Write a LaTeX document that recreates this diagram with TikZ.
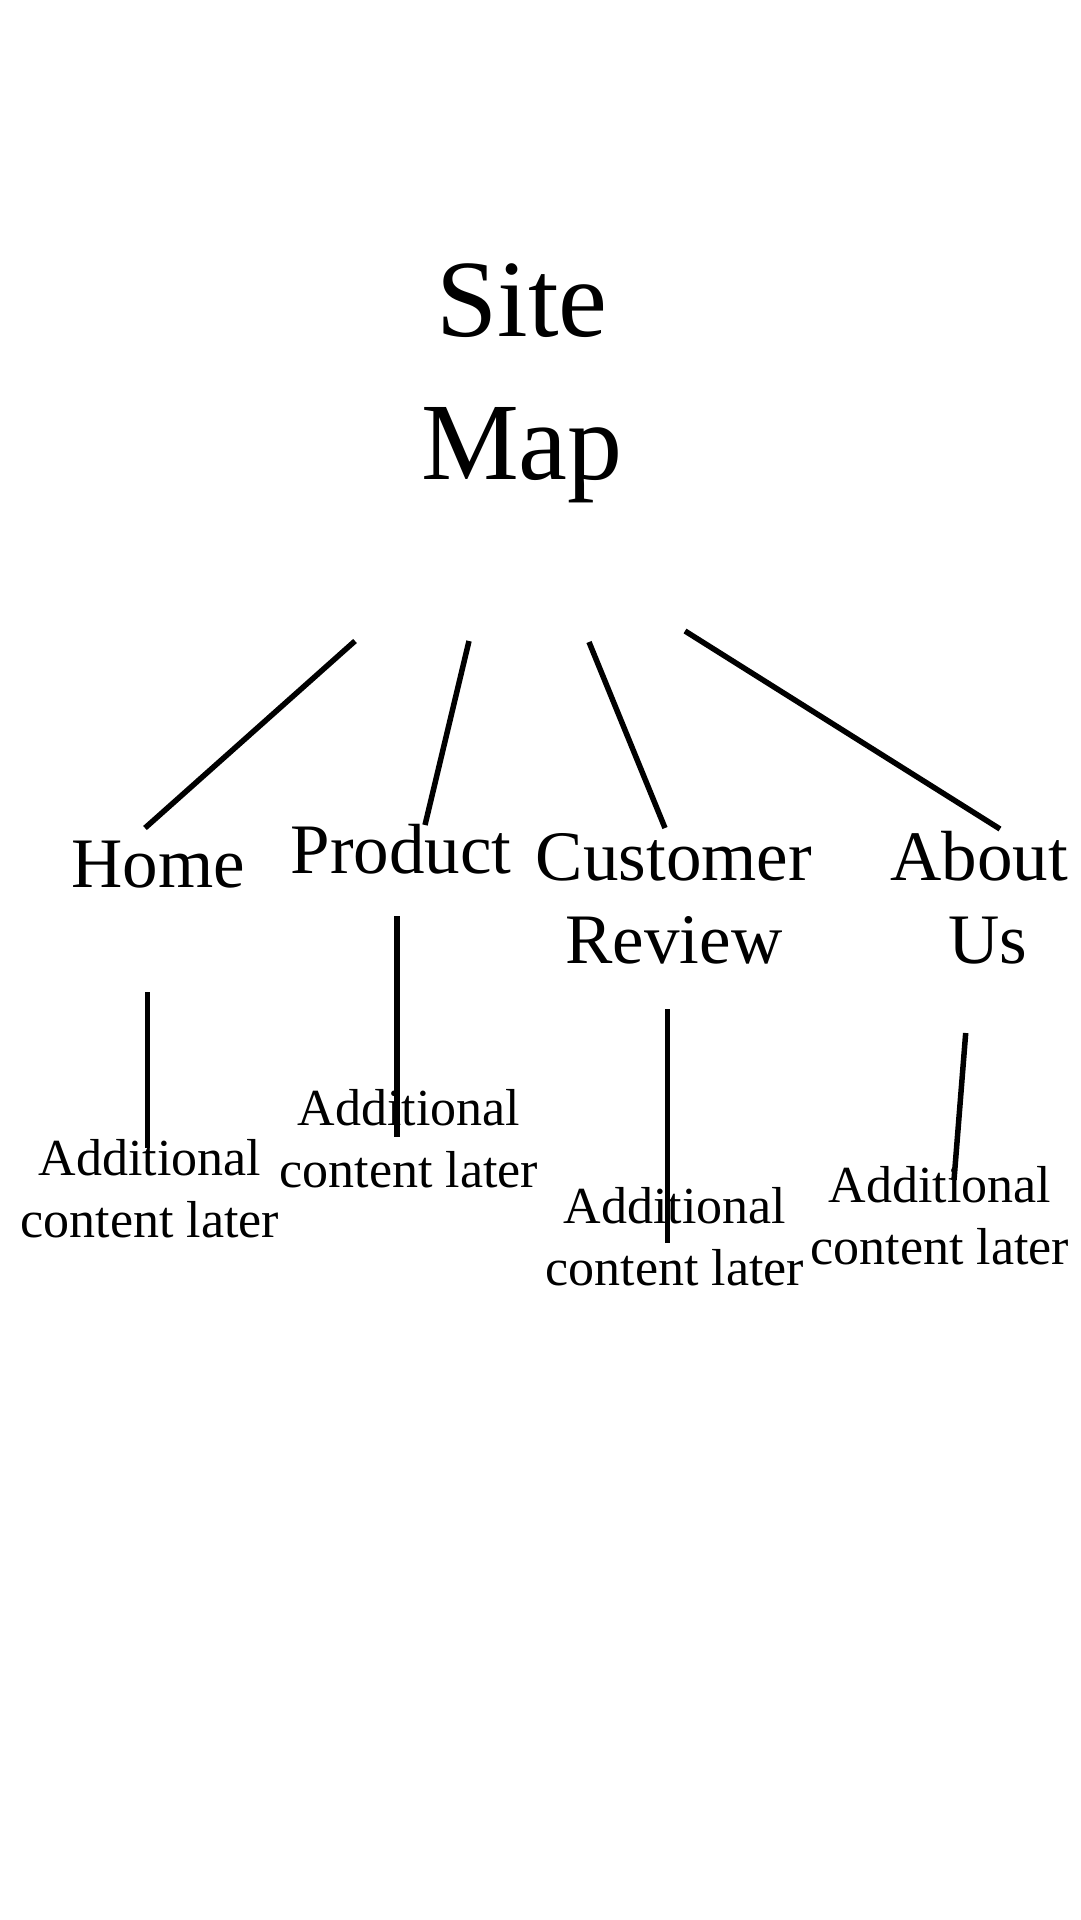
\documentclass[tikz,border=0pt]{standalone}
\usepackage{fontspec}
\setmainfont{Liberation Serif}
\tikzset{
  title/.style={anchor=base, inner sep=0pt, font=\fontsize{110}{143}\selectfont},
  page/.style={anchor=base, inner sep=0pt, font=\fontsize{71}{83}\selectfont},
  later/.style={anchor=base, inner sep=0pt, font=\fontsize{52}{62}\selectfont},
  link/.style={line width=5.5pt, black}
}
\newcommand{\stack}[1]{\begin{tabular}[t]{@{}c@{}}#1\end{tabular}}
\begin{document}
\begin{tikzpicture}[x=1pt, y=-1pt]
\useasboundingbox[fill=white] (0,0) rectangle (1080,1920);

\node[title] (site) at (522,336) {\stack{Site\\Map}};

\node[page] (home) at (158,887) {Home};
\node[page] (product) at (401,873) {Product};
\node[page] (customer) at (674,880) {\stack{Customer\\Review}};
\node[page] (about) at (979,880) {\stack{About\\\hspace*{18pt}Us}};

\node[later] (hadd) at (150,1175) {\stack{Additional\\content later}};
\node[later] (padd) at (409,1125) {\stack{Additional\\content later}};
\node[later] (cadd) at (675,1223) {\stack{Additional\\content later}};
\node[later] (aadd) at (940,1202) {\stack{Additional\\content later}};

\draw[link] ([shift={(-167,305)}]site.base) -- ([shift={(-13,-59)}]home.base);
\draw[link] ([shift={(-53,305)}]site.base) -- ([shift={(24,-48)}]product.base);
\draw[link] ([shift={(67,306)}]site.base) -- ([shift={(-9,-52)}]customer.base);
\draw[link] ([shift={(163,295)}]site.base) -- ([shift={(21,-51)}]about.base);

\draw[link] ([shift={(-10.5,105)}]home.base) -- ([shift={(-2.5,-27)}]hadd.base);
\draw[link] ([shift={(-4,43)}]product.base) -- ([shift={(-12,12)}]padd.base);
\draw[link] ([shift={(-6.3,129)}]customer.base) -- ([shift={(-7.3,20)}]cadd.base);
\draw[link] ([shift={(-13.3,153)}]about.base) -- ([shift={(14,-22)}]aadd.base);
\end{tikzpicture}
\end{document}
